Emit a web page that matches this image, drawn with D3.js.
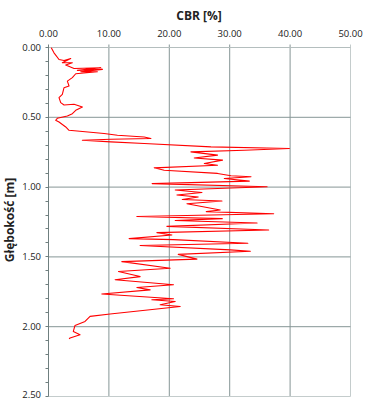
<!DOCTYPE html>
<html>
<head>
<meta charset="utf-8">
<script src="https://cdn.jsdelivr.net/npm/d3@7"></script>
<style>
  body { margin: 0; background: #fff; }
  text { font-family: "Open Sans", "Liberation Sans", sans-serif; fill: #222; }
</style>
</head>
<body>
<div id="chart"></div>
<script>
// CBR [%] read from the profile, top to bottom
var cbr = [0.46, 0.91, 1.74, 2.57, 3.68, 2.29, 3.95, 2.85, 4.23, 8.66, 4.78, 8.92, 5.34, 8.09, 4.51,
    3.95, 3.12, 3.40, 2.57, 2.29, 1.74, 2.02, 2.57, 4.23, 5.61, 4.51, 3.95, 3.12, 1.46, 1.19,
    1.74, 2.85, 3.40, 9.20, 11.41, 15.84, 16.95, 10.32, 5.61, 10.32, 15.84, 26.90, 39.88, 32.42, 23.58,
    27.99, 24.13, 28.82, 25.79, 27.99, 17.50, 19.15, 27.99, 30.22, 33.53, 29.10, 33.25, 17.16, 36.19,
    20.98, 25.41, 21.26, 24.79, 22.14, 28.72, 22.92, 26.24, 28.44, 26.12, 37.28, 14.63, 28.77, 20.98,
    34.53, 19.60, 36.45, 17.94, 20.43, 13.35, 20.70, 33.00, 15.17, 30.10, 33.42, 21.48, 24.58, 12.14,
    20.15, 11.58, 15.17, 11.03, 20.70, 14.63, 16.83, 8.82, 20.70, 17.11, 20.98, 18.49, 21.81, 10.20,
    6.88, 6.05, 4.39, 4.11, 5.22, 3.57, 3.40];
// depth [m] for each reading
var depth = [0.002, 0.038, 0.086, 0.093, 0.079, 0.109, 0.109, 0.126, 0.150, 0.145, 0.164, 0.157, 0.174, 0.174, 0.188,
    0.216, 0.241, 0.276, 0.288, 0.336, 0.359, 0.395, 0.412, 0.407, 0.426, 0.450, 0.474, 0.491, 0.507, 0.521,
    0.534, 0.569, 0.593, 0.616, 0.629, 0.641, 0.652, 0.657, 0.664, 0.676, 0.688, 0.712, 0.724, 0.736, 0.748,
    0.771, 0.791, 0.807, 0.831, 0.843, 0.862, 0.879, 0.902, 0.919, 0.926, 0.938, 0.957, 0.975, 0.998,
    1.021, 1.039, 1.057, 1.071, 1.089, 1.100, 1.119, 1.146, 1.164, 1.176, 1.191, 1.211, 1.226, 1.239,
    1.257, 1.281, 1.307, 1.326, 1.343, 1.369, 1.376, 1.402, 1.418, 1.450, 1.459, 1.482, 1.516, 1.534,
    1.581, 1.605, 1.641, 1.664, 1.700, 1.719, 1.736, 1.766, 1.800, 1.807, 1.819, 1.843, 1.855, 1.909,
    1.926, 1.962, 1.991, 2.034, 2.057, 2.081, 2.086];

var xTicks = [0, 10, 20, 30, 40, 50];
var yTicks = [0, 0.5, 1.0, 1.5, 2.0, 2.5];
var yMinor = d3.range(0, 2.51, 0.1);

var W = 369, H = 400;
var pLeft = 48.5, pRight = 350.5, pTop = 47.5, pBottom = 396.5;

var svg = d3.select("#chart").append("svg")
    .attr("width", W)
    .attr("height", H);

var x = d3.scaleLinear().domain([0, 50]).range([pLeft, pRight]);
var y = d3.scaleLinear().domain([0, 2.5]).range([pTop, pBottom]);

// grid
svg.selectAll(".vgrid")
    .data(xTicks.slice(1))
    .enter()
    .append("line")
    .attr("x1", d => x(d)).attr("x2", d => x(d))
    .attr("y1", pTop - 3).attr("y2", pBottom)
    .attr("stroke", d => d === 50 ? "#c4cccc" : "#869696")
    .attr("stroke-width", 1);

svg.selectAll(".hgrid")
    .data(yTicks.slice(1))
    .enter()
    .append("line")
    .attr("x1", pLeft).attr("x2", pRight)
    .attr("y1", d => y(d)).attr("y2", d => y(d))
    .attr("stroke", d => d === 2.5 ? "#c4cccc" : "#869696")
    .attr("stroke-width", 1);

// top axis line
svg.append("line")
    .attr("x1", pLeft).attr("x2", pRight)
    .attr("y1", pTop).attr("y2", pTop)
    .attr("stroke", "#b4bebe");

// left axis line with minor ticks
svg.append("line")
    .attr("x1", pLeft).attr("x2", pLeft)
    .attr("y1", pTop - 3).attr("y2", pBottom)
    .attr("stroke", "#6f7f7f");

svg.selectAll(".minor")
    .data(yMinor)
    .enter()
    .append("line")
    .attr("x1", pLeft - 3).attr("x2", pLeft)
    .attr("y1", d => Math.round(y(d) - 0.5) + 0.5).attr("y2", d => Math.round(y(d) - 0.5) + 0.5)
    .attr("stroke", "#6f7f7f");

// tick labels
svg.selectAll(".xlab")
    .data(xTicks)
    .enter()
    .append("text")
    .attr("x", d => x(d))
    .attr("y", 37)
    .attr("text-anchor", "middle")
    .style("font-size", "9.5px")
    .text(d => d.toFixed(2));

svg.selectAll(".ylab")
    .data(yTicks)
    .enter()
    .append("text")
    .attr("x", 41)
    .attr("y", d => Math.min(y(d) + 3, 398))
    .attr("text-anchor", "end")
    .style("font-size", "9.5px")
    .text(d => d.toFixed(2));

// titles
svg.append("text")
    .attr("x", 199)
    .attr("y", 20)
    .attr("text-anchor", "middle")
    .style("font-size", "12px")
    .style("font-weight", "bold")
    .text("CBR [%]");

svg.append("text")
    .attr("transform", "translate(14," + 220 + ") rotate(-90)")
    .attr("text-anchor", "middle")
    .style("font-size", "12px")
    .style("font-weight", "bold")
    .text("Głębokość [m]");

// profile line
var line = d3.line()
    .x(d => x(d[0]))
    .y(d => y(d[1]));

svg.append("path")
    .datum(d3.zip(cbr, depth))
    .attr("d", line)
    .attr("fill", "none")
    .attr("stroke", "#ff0000")
    .attr("stroke-width", 1.1)
    .attr("stroke-linejoin", "round");
</script>
</body>
</html>
